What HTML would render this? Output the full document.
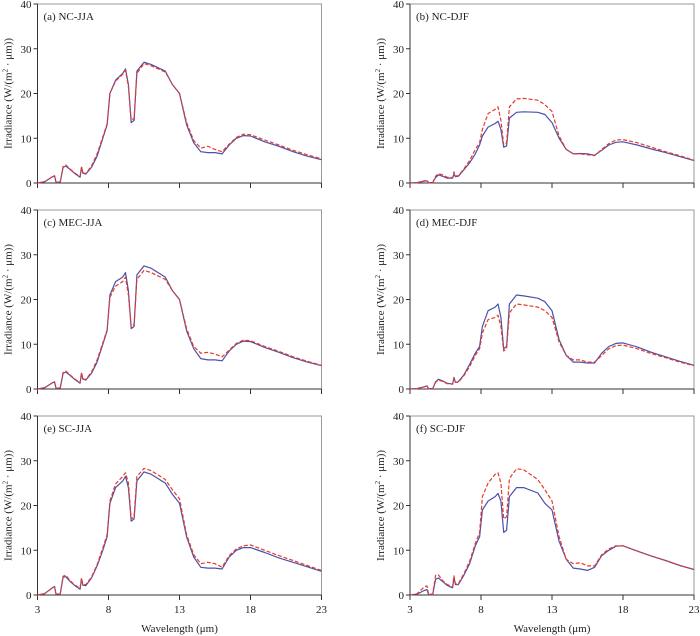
<!DOCTYPE html>
<html><head><meta charset="utf-8">
<style>
body{margin:0;background:#fff;}
svg{display:block;font-family:"Liberation Serif",serif;}
</style></head>
<body>
<svg id="chart" width="700" height="636"></svg>
<script>
const wavelengths=[3,3.5,4,4.2,4.3,4.6,4.8,5,5.3,5.6,6,6.1,6.2,6.4,6.8,7.2,7.6,7.9,8.1,8.5,9,9.2,9.4,9.6,9.8,10,10.5,11,12,12.5,13,13.5,14,14.5,15,15.5,16,16.5,17,17.5,18,19,20,21,22,23];
const aBlue=[0,0.3,1.3,1.6,0.2,0.2,3.5,3.8,3,2.2,1.3,3.5,2.2,2,3.5,6,10,13,20,23,24.5,25.5,22,13.5,14,25,27,26.5,25,22,20,13,9,7,6.8,6.8,6.5,8.5,10,10.6,10.5,9.2,8.2,7,6,5.2];
const aRed=[0,0.3,1.3,1.6,0.2,0.2,3.7,4,3.1,2.3,1.4,3.7,2.3,2.1,3.8,6.5,10.3,13.2,20,22.8,24.3,25.2,21.5,14,14.5,24.5,26.7,26.2,24.8,22,20,13.5,9.5,7.8,8.2,7.5,7,8.7,10.2,10.9,10.8,9.6,8.5,7.3,6.3,5.4];
const bBlue=[0,0.1,0.4,0.5,0.1,0.1,1.2,1.8,1.5,1.1,1.1,2,1.4,1.5,3,4.5,6.5,8.5,10.5,12.5,13.3,13.8,12,8,8.3,14.5,15.8,15.9,15.8,15.3,13.5,10,7.5,6.5,6.6,6.5,6.2,7.3,8.5,9.1,9.2,8.5,7.6,6.8,5.9,5];
const bRed=[0,0.1,0.5,0.6,0.1,0.1,1.5,2.1,1.8,1.3,1.2,2.5,1.6,1.6,3.2,5,7.5,9,12,15.5,16.5,17,14,8.5,9,17,18.8,18.9,18.5,17.5,16,10.5,7.5,6.5,6.5,6.3,6.1,7.5,8.8,9.6,9.7,9,8,7,6.1,5.1];
const cBlue=[0,0.3,1.3,1.6,0.2,0.2,3.5,3.8,3,2.2,1.3,3.5,2.2,2,3.5,6,10,13,21,24,25,26,22,13.5,14,25.5,27.5,27,25,22,20,13,9,6.8,6.5,6.5,6.3,8.5,10,10.7,10.6,9.3,8.2,7,6,5.2];
const cRed=[0,0.3,1.3,1.6,0.2,0.2,3.7,4,3.1,2.3,1.4,3.7,2.3,2.1,3.8,6.5,10.3,13.2,20.5,23,24,25,21,14,14.5,24.5,26.5,26,24.5,22,20,13.5,9.5,8,8.2,7.8,7.2,8.7,10.2,10.9,10.8,9.5,8.4,7.2,6.2,5.3];
const dBlue=[0,0.1,0.5,0.7,0.1,0.1,1.6,2.2,1.8,1.3,1.1,2.6,1.5,1.6,3.2,5.5,8,9.5,14,17.5,18.3,19,16,9,9.5,19,21,20.8,20.3,19.5,17.5,11,7.5,6,6,5.8,5.8,8,9.5,10.2,10.3,9.4,8.2,7.2,6.2,5.3];
const dRed=[0,0.1,0.5,0.7,0.1,0.1,1.5,2,1.7,1.2,1.1,2.5,1.5,1.5,3,5,7.5,9,12.5,15.5,16,16.5,14,8.5,9,17,19,18.8,18.3,17.5,16,10.5,7.5,6.5,6.5,6,6,7.5,9,9.7,9.8,9,7.9,7,6,5.2];
const eBlue=[0,0.3,1.5,1.9,0.2,0.2,4,4.1,3,2.2,1.3,3.6,2.2,2.1,3.8,6.5,10,13,20.5,24,25.5,26.5,24,16.5,17,25.5,27.5,27,25,22.5,20.5,13,8.5,6.2,6,6,5.8,8.5,10,10.6,10.6,9.5,8.3,7.3,6.3,5.3];
const eRed=[0,0.3,1.5,1.9,0.2,0.2,4.2,4.4,3.2,2.3,1.5,3.8,2.4,2.3,4,6.8,10.5,13.5,21,24.8,26.5,27.3,25,17,17.5,26.5,28.3,27.8,25.8,23.5,21.5,13.5,9,7,7.3,7,6.2,8.8,10.3,11,11.2,10,8.8,7.7,6.6,5.5];
const fBlue=[0,0.2,1,1.2,0.1,0.1,3.5,3.8,3,2.2,1.6,4,2.3,2.3,4.5,7,11,13,19,21,22,22.7,21,14,14.5,22,24,24,22.8,20.5,19,12,8,6,5.8,5.5,6.2,8.8,10,10.9,11,9.8,8.7,7.7,6.6,5.7];
const fRed=[0,0.3,1.8,2,0.2,0.2,4.4,4.5,3.2,2.4,1.8,4.3,2.5,2.5,4.8,7.5,11.5,14,22,25,27,27.3,25,17,17.5,26,28.2,28,25.8,23.5,21,13,8,7,7.2,6.5,6.5,9,10.3,11,11,9.8,8.7,7.7,6.6,5.7];
const panelTitles=["(a) NC-JJA","(b) NC-DJF","(c) MEC-JJA","(d) MEC-DJF","(e) SC-JJA","(f) SC-DJF"];
const blueSeries=[aBlue,bBlue,cBlue,dBlue,eBlue,fBlue];
const redSeries=[aRed,bRed,cRed,dRed,eRed,fRed];
const yTicks=[0,10,20,30,40];
const xTicks=[3,8,13,18,23];

const NS="http://www.w3.org/2000/svg";
const svg=document.getElementById('chart');
function mk(tag,attrs,parent){const e=document.createElementNS(NS,tag);for(const k in attrs)e.setAttribute(k,attrs[k]);(parent||svg).appendChild(e);return e;}
const colX=[37.5,410], plotW=284, rowTop=[4,210,416], plotH=179;
for(let p=0;p<6;p++){
  const col=p%2,row=Math.floor(p/2);
  const x0=colX[col],y0=rowTop[row];
  const xs=v=>x0+(v-3)/20*plotW;
  const ys=v=>y0+plotH-v/40*plotH;
  const g=mk('g',{});
  
  
  const fr=mk('path',{d:`M${x0},${y0}H${x0+plotW}V${y0+plotH}`,fill:'none',stroke:'#999','stroke-width':1},g);
  
  
  const ax=mk('path',{d:`M${x0},${y0}V${y0+plotH}H${x0+plotW}`,fill:'none',stroke:'#333','stroke-width':1},g);
  
  
  yTicks.forEach(t=>{
    const y=ys(t);
    mk('line',{x1:x0-4,x2:x0,y1:y,y2:y,stroke:'#333'},g);
    const tx=mk('text',{x:x0-6,y:y+4,'text-anchor':'end','font-size':11,fill:'#222'},g);
    tx.textContent=t;
    
    
  });
  xTicks.forEach(t=>{
    const x=xs(t);
    mk('line',{x1:x,x2:x,y1:y0+plotH,y2:y0+plotH+5,stroke:'#333'},g);
    if(row===2){
      const tx=mk('text',{x:x,y:y0+plotH+18,'text-anchor':'middle','font-size':11,fill:'#222'},g);
      tx.textContent=t;
      
      
    }
  });
  const yt=mk('text',{transform:`translate(${x0-26},${y0+plotH/2}) rotate(-90)`,'text-anchor':'middle','font-size':11,fill:'#222'},g);
  yt.innerHTML='Irradiance (W/(m<tspan font-size="7" dy="-4">2</tspan><tspan dy="4"> · μm))</tspan>';
  
  
  if(row===2){
    const xt=mk('text',{x:x0+plotW/2,y:y0+plotH+37,'text-anchor':'middle','font-size':11,fill:'#222'},g);
    xt.textContent='Wavelength (μm)';
    
    
  }
  const pt=mk('text',{x:x0+6,y:y0+16,'font-size':11,fill:'#222'},g);
  pt.textContent=panelTitles[p];
  
  
  const line=(arr,color,dash,name)=>{
    const d=arr.map((v,i)=>(i?'L':'M')+xs(wavelengths[i]).toFixed(1)+','+ys(v).toFixed(1)).join('');
    const pth=mk('path',{d,fill:'none',stroke:color,'stroke-width':1.2,'stroke-dasharray':dash,'stroke-linejoin':'round'},g);
    
    
  };
  line(blueSeries[p],'#4a52a8','none','blue-series-line');
  line(redSeries[p],'#e8392c','4,2','red-dashed-series-line');
}
</script>
</body></html>
